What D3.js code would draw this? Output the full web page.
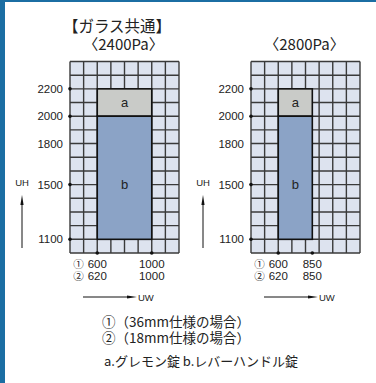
<!DOCTYPE html>
<html>
<head>
<meta charset="utf-8">
<script src="https://d3js.org/d3.v7.min.js"></script>
<style>
  body { margin: 0; background: #fff; }
  svg text { font-family: "Liberation Sans", Arial, sans-serif; fill: #222; }
  .jp { font-family: "Noto Sans CJK JP", sans-serif; }
</style>
</head>
<body>
<svg id="chart" width="376" height="383"></svg>
<script>
// panel data
var panels = ["〈2400Pa〉", "〈2800Pa〉"];
var widthMin36 = [600, 600];   // ① 36mm
var widthMin18 = [620, 620];   // ② 18mm
var widthMax = [1000, 850];
var heightLow = 1100, heightMid = 2000, heightHigh = 2200;
var yTicks = [2200, 2000, 1800, 1500, 1100];
var yDots = [2200, 2000, 1500, 1100];
var gridX = [400, 1200], gridY = [1000, 2400];
var lockLabels = ["a", "b"];

var svg = d3.select("#chart");

// frame border
svg.append("rect").attr("x", 0).attr("y", 0).attr("width", 376).attr("height", 2).attr("fill", "#1b6ea3");
svg.append("rect").attr("x", 0).attr("y", 0).attr("width", 5).attr("height", 383).attr("fill", "#1b6ea3");

svg.append("text").attr("class", "jp")
  .attr("x", 117).attr("y", 32).attr("text-anchor", "middle")
  .style("font-size", "15.5px").text("【ガラス共通】");

var offsets = [70, 251];
var gridTop = 61.5, gridBottom = 253;
var gw = 109;

panels.forEach(function(title, i) {
  var left = offsets[i];
  var x = d3.scaleLinear().domain(gridX).range([left, left + gw]);
  var y = d3.scaleLinear().domain(gridY).range([gridBottom, gridTop]);
  var g = svg.append("g");

  g.append("text").attr("class", "jp")
    .attr("x", left + gw / 2 - 1).attr("y", 50).attr("text-anchor", "middle")
    .style("font-size", "15px").text(title);

  g.append("rect")
    .attr("x", x(gridX[0])).attr("y", y(gridY[1]))
    .attr("width", x(gridX[1]) - x(gridX[0])).attr("height", y(gridY[0]) - y(gridY[1]))
    .attr("fill", "#dde3ef");

  var xs = d3.range(gridX[0], gridX[1] + 1, 100);
  var ys = d3.range(gridY[0], gridY[1] + 1, 100);
  g.selectAll(".vl").data(xs).enter().append("line")
    .attr("x1", function(d) { return x(d); }).attr("x2", function(d) { return x(d); })
    .attr("y1", y(gridY[0])).attr("y2", y(gridY[1]))
    .attr("stroke", "#3a3a3a").attr("stroke-width", 1.4);
  g.selectAll(".hl").data(ys).enter().append("line")
    .attr("y1", function(d) { return y(d); }).attr("y2", function(d) { return y(d); })
    .attr("x1", x(gridX[0])).attr("x2", x(gridX[1]))
    .attr("stroke", "#3a3a3a").attr("stroke-width", 1.4);

  // lock areas
  g.append("rect")
    .attr("x", x(widthMin36[i])).attr("y", y(heightHigh))
    .attr("width", x(widthMax[i]) - x(widthMin36[i])).attr("height", y(heightMid) - y(heightHigh))
    .attr("fill", "#c9cbc8").attr("stroke", "#111").attr("stroke-width", 1.6);
  g.append("rect")
    .attr("x", x(widthMin36[i])).attr("y", y(heightMid))
    .attr("width", x(widthMax[i]) - x(widthMin36[i])).attr("height", y(heightLow) - y(heightMid))
    .attr("fill", "#8ba3c6").attr("stroke", "#111").attr("stroke-width", 1.6);

  g.append("text").attr("x", x((widthMin36[i] + widthMax[i]) / 2)).attr("y", y((heightHigh + heightMid) / 2) + 4.5)
    .attr("text-anchor", "middle").style("font-size", "13px").text(lockLabels[0]);
  g.append("text").attr("x", x((widthMin36[i] + widthMax[i]) / 2)).attr("y", y(1500) + 4.5)
    .attr("text-anchor", "middle").style("font-size", "13px").text(lockLabels[1]);

  // y ticks
  g.selectAll(".yt").data(yTicks).enter().append("text")
    .attr("x", left - 7).attr("y", function(d) { return y(d) + 4; })
    .attr("text-anchor", "end").style("font-size", "11.5px").text(function(d) { return d; });
  g.selectAll(".yd").data(yDots).enter().append("circle")
    .attr("cx", left).attr("cy", function(d) { return y(d); }).attr("r", 1.8).attr("fill", "#111");
  g.selectAll(".xd").data([widthMin36[i], widthMax[i]]).enter().append("circle")
    .attr("cx", function(d) { return x(d); }).attr("cy", gridBottom).attr("r", 1.8).attr("fill", "#111");

  // x labels
  [[widthMin36[i], "①", 268], [widthMin18[i], "②", 280]].forEach(function(r) {
    g.append("text").attr("x", x(widthMin36[i])).attr("y", r[2])
      .attr("text-anchor", "middle").style("font-size", "11.5px").text(r[0]);
    g.append("text").attr("class", "jp").attr("x", x(widthMin36[i]) - 13.5).attr("y", r[2])
      .attr("text-anchor", "end").style("font-size", "10.5px").text(r[1]);
    g.append("text").attr("x", x(widthMax[i])).attr("y", r[2])
      .attr("text-anchor", "middle").style("font-size", "11.5px").text(widthMax[i]);
  });

  // UH arrow
  var ax = left - 48;
  g.append("text").attr("x", ax).attr("y", 186).attr("text-anchor", "middle")
    .style("font-size", "9.5px").text("UH");
  g.append("line").attr("x1", ax).attr("x2", ax).attr("y1", 248).attr("y2", 203)
    .attr("stroke", "#111").attr("stroke-width", 1);
  g.append("path").attr("d", "M" + ax + ",195 L" + (ax + 1.6) + ",205 L" + (ax - 1.6) + ",205 Z").attr("fill", "#111");

  // UW arrow
  var uy = 297, ux0 = left + 13, ux1 = left + 67;
  g.append("line").attr("x1", ux0).attr("x2", ux1 - 8).attr("y1", uy).attr("y2", uy)
    .attr("stroke", "#111").attr("stroke-width", 1);
  g.append("path").attr("d", "M" + ux1 + "," + uy + " L" + (ux1 - 10) + "," + (uy - 1.6) + " L" + (ux1 - 10) + "," + (uy + 1.6) + " Z").attr("fill", "#111");
  g.append("text").attr("x", ux1 + 1).attr("y", uy + 3.5).style("font-size", "9.5px").text("UW");
});

// legends
var notes = ["①（36mm仕様の場合）", "②（18mm仕様の場合）"];
svg.selectAll(".note").data(notes).enter().append("text").attr("class", "jp")
  .attr("x", 102).attr("y", function(d, i) { return 327 + i * 16; })
  .style("font-size", "13.5px").text(function(d) { return d; });
svg.append("text").attr("class", "jp").attr("x", 104).attr("y", 366)
  .style("font-size", "13px").text("a.グレモン錠  b.レバーハンドル錠");
</script>
</body>
</html>
